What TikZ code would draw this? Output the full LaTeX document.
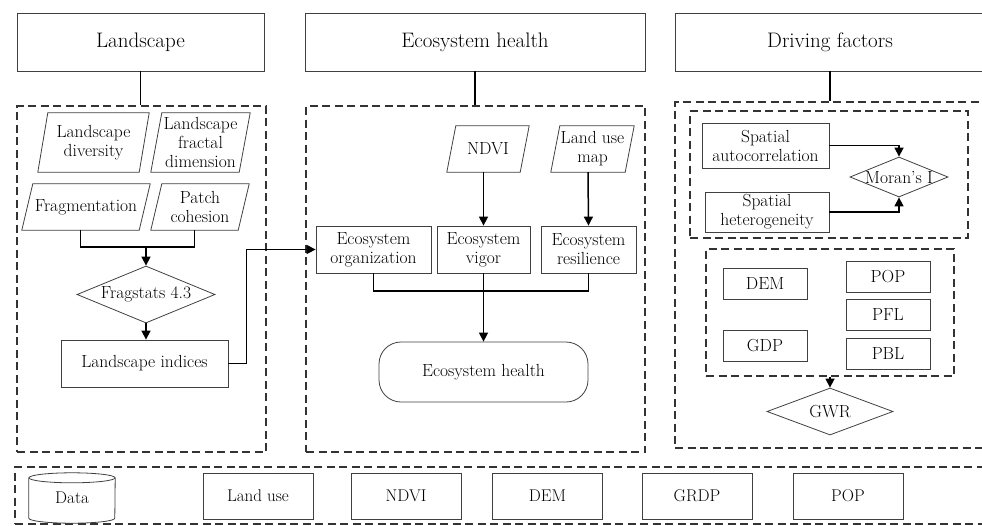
\documentclass[tikz,border=0pt]{standalone}
\usetikzlibrary{shapes.geometric,arrows.meta}
\newcommand\lblfont{\fontsize{17.5}{19}\selectfont}
\newcommand\ttlfont{\fontsize{21}{24}\selectfont}
\newcommand\btmfont{\fontsize{17}{19}\selectfont}
\newcommand\paral[2]{\draw[boxline] ([xshift=#2]#1.north west) -- (#1.north east) -- ([xshift=-#2]#1.south east) -- (#1.south west) -- cycle;}
\begin{document}
\begin{tikzpicture}[x=1pt,y=-1pt,
  boxline/.style={draw=black!75, line width=0.8pt},
  box/.style={boxline, align=center, inner sep=1pt, font=\lblfont},
  ttl/.style={boxline, align=center, font=\ttlfont},
  btm/.style={boxline, align=center, font=\btmfont, minimum width=110pt, minimum height=46pt},
  para/.style={align=center, inner sep=0pt, font=\lblfont},
  dbox/.style={draw=black!80, dash pattern=on 8pt off 4.5pt, line width=1.1pt},
  conn/.style={line width=1.5pt, draw=black},
  arr/.style={conn, -{Triangle[length=9pt,width=9pt]}},
  dia/.style={diamond, boxline, inner sep=0pt},
  small/.style={box, minimum width=84pt, minimum height=31pt}
]
\useasboundingbox (0,0) rectangle (982,525);
\clip (0,0) rectangle (982,525);

% titles
\node[ttl, minimum width=247pt, minimum height=58pt] (tLand) at (140.5,42) {Landscape};
\node[ttl, minimum width=340pt, minimum height=58pt] (tEco) at (475,42) {Ecosystem health};
\node[ttl, minimum width=310pt, minimum height=58pt] (tDrive) at (830,42) {Driving factors};

% dashed panels
\node[dbox, minimum width=249pt, minimum height=346pt] (dLand) at (141.5,279) {};
\node[dbox, minimum width=339pt, minimum height=346pt] (dEco) at (475.5,279) {};
\node[dbox, minimum width=310pt, minimum height=346pt] (dDrive) at (830,275) {};
\node[dbox, minimum width=975pt, minimum height=57pt] (dData) at (502.5,495.5) {};

\draw[conn] (tLand.south) -- (tLand.south |- dLand.north);
\draw[conn] (tEco.south) -- (tEco.south |- dEco.north);
\draw[conn] (tDrive.south) -- (tDrive.south |- dDrive.north);

% Landscape panel
\node[para, minimum width=111pt, minimum height=59pt] (ld) at (93.5,142.5) {Landscape\\diversity};
\paral{ld}{10pt}
\node[para, minimum width=99pt, minimum height=59pt] (lf) at (200.5,142.5) {Landscape\\fractal\\dimension};
\paral{lf}{11pt}
\node[para, minimum width=128pt, minimum height=46pt] (fr) at (86,207) {Fragmentation};
\paral{fr}{11pt}
\node[para, minimum width=98pt, minimum height=46pt] (pc) at (200,207) {Patch\\cohesion};
\paral{pc}{11pt}

\node[dia, minimum width=138pt, minimum height=57pt, label={[font=\lblfont]center:Fragstats 4.3}] (fs) at (146,294.5) {};
\node[box, minimum width=167pt, minimum height=47pt] (li) at (144.5,363.5) {Landscape indices};

\coordinate (j1) at (146,247);
\draw[conn] ([xshift=-5.5pt]fr.south) |- (j1) -| ([xshift=-5.5pt]pc.south);
\draw[arr] (j1) -- (fs.north);
\draw[arr] (fs.south) -- (fs.south |- li.north);

% Ecosystem panel
\node[para, minimum width=82pt, minimum height=46pt] (nd) at (488,149) {NDVI};
\paral{nd}{9pt}
\node[para, minimum width=83pt, minimum height=46pt] (lu) at (592.5,149) {Land use\\map};
\paral{lu}{9pt}
\node[box, minimum width=115pt, minimum height=47pt] (eo) at (373.5,249.5) {Ecosystem\\organization};
\node[box, minimum width=93pt, minimum height=47pt] (ev) at (483.5,249.5) {Ecosystem\\vigor};
\node[box, minimum width=95pt, minimum height=47pt] (er) at (588.5,249.5) {Ecosystem\\resilience};
\node[box, minimum width=209pt, minimum height=60pt, rounded corners=22pt] (eh) at (483.5,372) {Ecosystem health};

\draw[arr] ([xshift=-4.5pt]nd.south) -- (ev.north);
\draw[arr] ([xshift=-4.5pt]lu.south) -- (er.north);
\coordinate (j2) at (483.5,291);
\draw[conn] (eo.south) |- (j2) -| (er.south);
\draw[arr] (ev.south) -- (eh.north);
\draw[arr] (li.east) -- ++(18,0) |- (eo.west);

% Driving panel
\node[dbox, minimum width=278pt, minimum height=127pt] (dI1) at (829,174.5) {};
\node[box, minimum width=127pt, minimum height=45pt] (sa) at (765.5,145.5) {Spatial\\autocorrelation};
\node[box, minimum width=124pt, minimum height=40pt] (sh) at (767,212) {Spatial\\heterogeneity};
\node[dia, minimum width=98pt, minimum height=40pt, label={[font=\lblfont]center:Moran's I}] (mi) at (899,177) {};
\draw[arr] (sa.east) -| (mi.north);
\draw[arr] (sh.east) -| (mi.south);

\node[dbox, minimum width=248pt, minimum height=127pt] (dI2) at (830,312.5) {};
\node[small] (dem) at (765,283.5) {DEM};
\node[small] (gdp) at (765,345.5) {GDP};
\node[small] (pop) at (888,276.5) {POP};
\node[small] (pfl) at (888,314.5) {PFL};
\node[small] (pbl) at (888,353.5) {PBL};
\node[dia, minimum width=126pt, minimum height=47pt, label={[font=\lblfont]center:GWR}] (gwr) at (830,411.5) {};
\draw[arr] (dI2.south) -- (gwr.north);

% Data row
\node[align=center, font=\btmfont, minimum width=86pt, minimum height=50pt, inner sep=0pt] (data) at (72,498) {Data};
\draw[boxline] ([yshift=-5pt]data.north west) -- ([yshift=5pt]data.south west)
  arc[start angle=180, end angle=360, x radius=43pt, y radius=5pt]
  -- ([yshift=-5pt]data.north east);
\draw[boxline] ([yshift=-5pt]data.north) ellipse[x radius=43pt, y radius=5pt];
\node[btm] (blu) at (258,496) {Land use};
\node[btm] (bnd) at (406,496) {NDVI};
\node[btm] (bdem) at (547.5,496) {DEM};
\node[btm] (bgr) at (697,496) {GRDP};
\node[btm] (bpop) at (848,496) {POP};
\end{tikzpicture}
\end{document}
